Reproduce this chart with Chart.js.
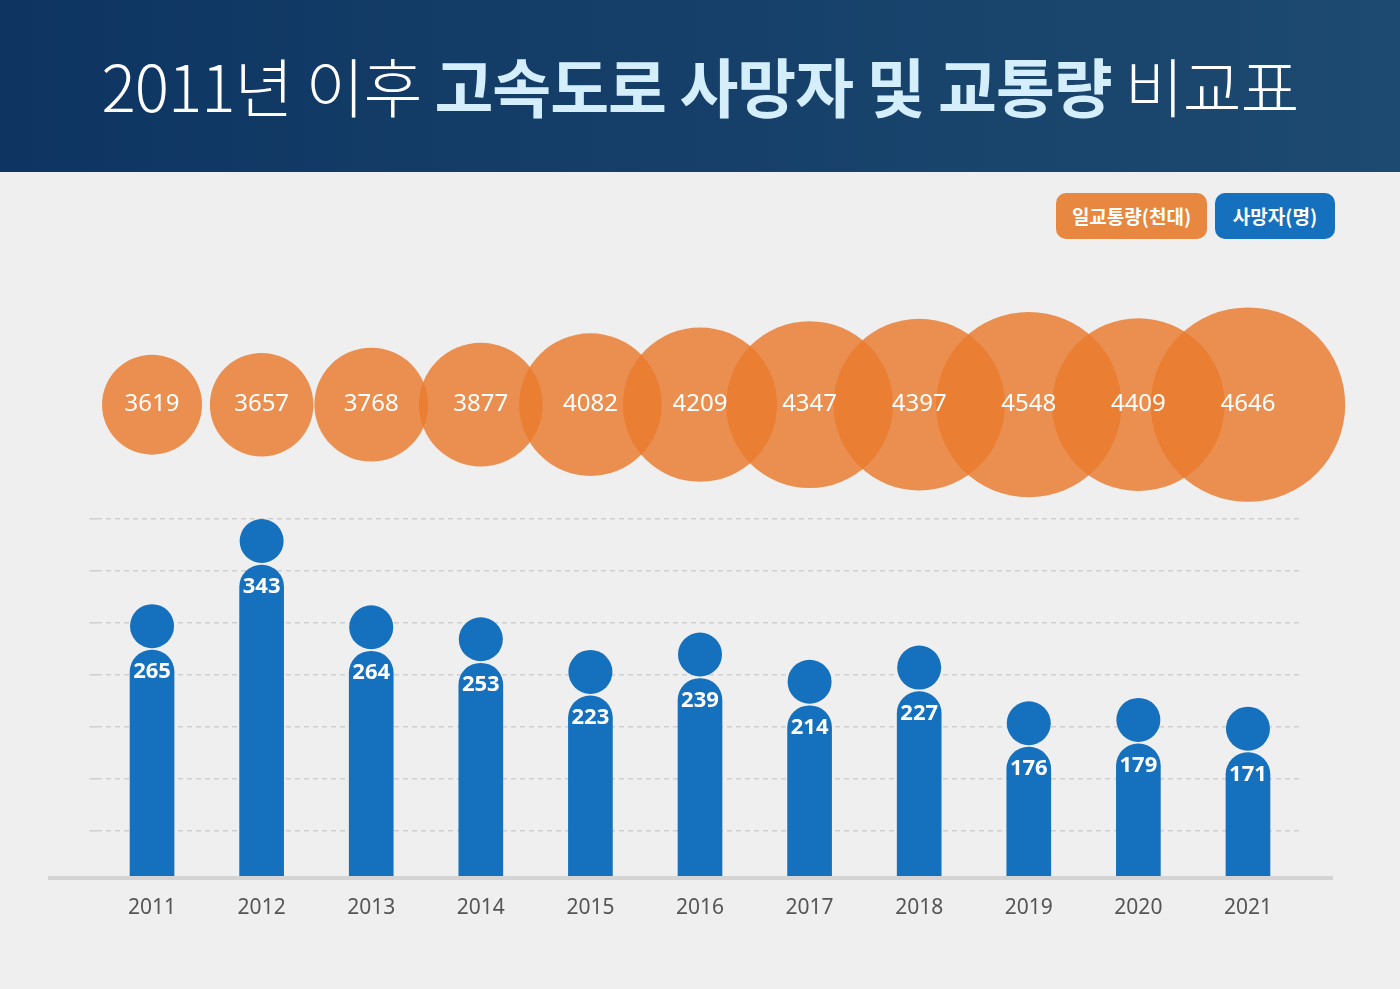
<!DOCTYPE html>
<html><head><meta charset="utf-8">
<script src="https://cdn.jsdelivr.net/npm/chart.js@4.4.1/dist/chart.umd.min.js"></script>
<style>
body{margin:0;width:1400px;height:989px;background:#efefef;overflow:hidden;font-family:"Noto Sans CJK KR","Noto Sans",sans-serif;position:relative}
#hdr{position:absolute;left:0;top:0;width:1400px;height:172px;background:linear-gradient(90deg,#0e3562,#1d4a70)}
#title{position:absolute;top:42px;width:1400px;text-align:center;font-size:64px;line-height:84px;color:#fff;font-weight:300;letter-spacing:-1px}
#title b{color:#d4eefb;font-weight:700}
.pill{position:absolute;top:193px;height:46px;line-height:46px;border-radius:10px;color:#fff;font-weight:700;font-size:19px;text-align:center}
#c{position:absolute;left:0;top:0}
</style></head><body>
<div id="hdr"></div>
<div id="title">2011년 이후 <b>고속도로 사망자 및 교통량</b> 비교표</div>
<div class="pill" style="left:1056px;width:151px;background:#e8873f">일교통량(천대)</div>
<div class="pill" style="left:1215px;width:120px;background:#1570bd">사망자(명)</div>
<canvas id="c" width="1400" height="989"></canvas>
<script>
const years=['2011','2012','2013','2014','2015','2016','2017','2018','2019','2020','2021'];
const deaths=[265,343,264,253,223,239,214,227,176,179,171];
const traffic=[3619,3657,3768,3877,4082,4209,4347,4397,4548,4409,4646];
const gridVals=[99,147,195,242,290,338,385];
const ctx=document.getElementById('c');
const heads={id:'heads',afterDatasetsDraw(ch){
  const c=ch.ctx;const m=ch.getDatasetMeta(0);
  m.data.forEach((b,i)=>{
    c.save();c.fillStyle='#1570bd';c.beginPath();c.arc(b.x,b.y-24,22,0,Math.PI*2);c.fill();
    c.fillStyle='#fff';c.font='bold 22px "Noto Sans","Noto Sans CJK KR"';c.textAlign='center';c.textBaseline='middle';
    c.fillText(deaths[i],b.x,b.y+22);c.restore();
  });
  const m2=ch.getDatasetMeta(1);
  m2.data.forEach((p,i)=>{
    c.save();c.fillStyle='#fff';c.font='24px "Noto Sans","Noto Sans CJK KR"';c.textAlign='center';c.textBaseline='middle';
    c.fillText(traffic[i],p.x,p.y);c.restore();
  });
  const a=ch.chartArea;c.save();c.strokeStyle='#d4d4d4';c.lineWidth=4;c.beginPath();c.moveTo(48,a.bottom+1);c.lineTo(1333,a.bottom+1);c.stroke();c.restore();
}};
new Chart(ctx,{
  data:{labels:years,datasets:[
    {type:'bar',data:deaths,backgroundColor:'#1570bd',barThickness:44,borderRadius:{topLeft:22,topRight:22},borderSkipped:'bottom',yAxisID:'y',order:2},
    {type:'bubble',data:traffic.map((v,i)=>({x:years[i],y:1,r:50+0.046*(v-3619)})),backgroundColor:'rgba(233,122,45,0.82)',borderWidth:0,yAxisID:'y2',order:1}
  ]},
  options:{responsive:false,animation:false,events:[],
    layout:{padding:{left:45.5,right:68.5,top:300,bottom:0}},
    plugins:{legend:{display:false},tooltip:{enabled:false}},
    scales:{
      x:{offset:true,grid:{display:false},border:{display:false},afterFit(s){s.height=112;},ticks:{color:'#555',font:{size:21,family:'"Noto Sans"'},padding:10}},
      y:{min:57,max:586,afterFit(s){s.width=0;},afterBuildTicks(s){s.ticks=gridVals.map(v=>({value:v}));},
        grid:{color:'#cfcfcf',lineWidth:1.5},border:{display:false,dash:[5,4]},ticks:{display:false}},
      y2:{display:false,min:-1.438,max:1.54}
    }},
  plugins:[heads]
});
</script>
</body></html>
